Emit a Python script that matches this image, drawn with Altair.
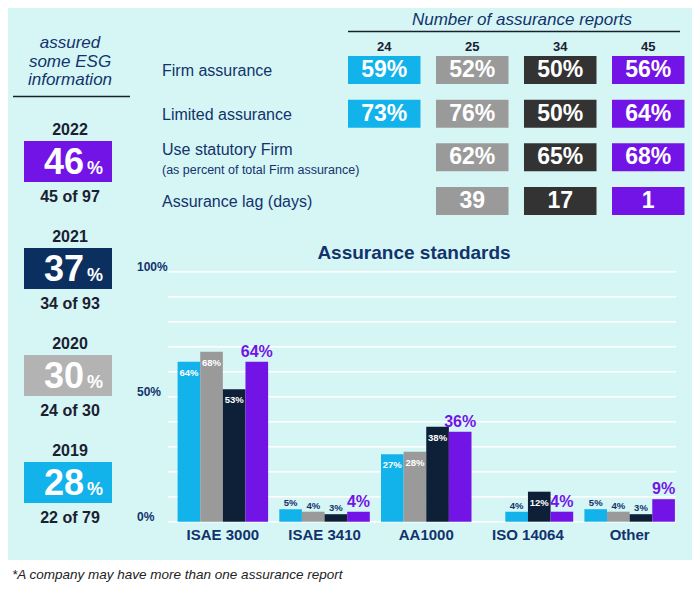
import altair as alt
import pandas as pd

# ---------------- data ----------------
years = ["2022", "2021", "2020", "2019"]
year_pct = [46, 37, 30, 28]
year_counts = ["45 of 97", "34 of 93", "24 of 30", "22 of 79"]

report_counts = ["24", "25", "34", "45"]
table_rows = ["Firm assurance", "Limited assurance", "Use statutory Firm", "Assurance lag (days)"]
firm_assurance = [59, 52, 50, 56]
limited_assurance = [73, 76, 50, 64]
use_statutory = [None, 62, 65, 68]
assurance_lag = [None, 39, 17, 1]

standards = ["ISAE 3000", "ISAE 3410", "AA1000", "ISO 14064", "Other"]
s2019 = [64, 5, 27, None, 5]
s2020 = [68, 4, 28, 4, 4]
s2021 = [53, 3, 38, 12, 3]
s2022 = [64, 4, 36, 4, 9]
grid_ticks = list(range(0, 101, 10))
axis_ticks = [0, 50, 100]

# ---------------- styles ----------------
BG = "#d6f6f6"
CYAN = "#12b2ea"
GRAY = "#9a9a9a"
GRAY_LIGHT = "#b3b3b3"
DARK = "#333333"
NAVY_BAR = "#0e2038"
NAVY_BOX = "#0b2f5f"
PURPLE = "#7214e6"
TXT_NAVY = "#12336b"
TXT_DARK = "#1b2030"
FONT = "Liberation Sans, Arial, sans-serif"

one = pd.DataFrame({"a": [0]})

# ---------------- background ----------------
bg = alt.Chart(one).mark_rect(color=BG).encode(
    x=alt.value(0), x2=alt.value(684), y=alt.value(0), y2=alt.value(552))

# ---------------- left panel ----------------
hdr_left = alt.Chart(one).mark_text(
    font=FONT, fontSize=17, fontStyle="italic", color=TXT_NAVY, align="center",
    baseline="top", lineBreak="\n", lineHeight=18.5
).encode(x=alt.value(62), y=alt.value(27), text=alt.value("assured\nsome ESG\ninformation"))
rule_left = alt.Chart(one).mark_rule(color=TXT_DARK, strokeWidth=1.3).encode(
    x=alt.value(5), x2=alt.value(122), y=alt.value(88.5))

yr = pd.DataFrame({"year": years, "pct": year_pct, "count": year_counts,
                   "color": [PURPLE, NAVY_BOX, GRAY_LIGHT, CYAN]})
yband = alt.Scale(domain=years, range=[100, 528], paddingInner=0.617, paddingOuter=0.3085)
ybase = alt.Chart(yr)
Yy = alt.Y("year:N", scale=yband, axis=None)
yboxes = ybase.mark_rect().encode(x=alt.value(16), x2=alt.value(104), y=Yy,
                                   color=alt.Color("color:N", scale=None))
ylabels = ybase.mark_text(font=FONT, fontSize=16, fontWeight="bold", color=TXT_DARK,
                          baseline="middle", dy=-32).encode(x=alt.value(62), y=Yy, text="year:N")
ynum = ybase.mark_text(font=FONT, fontSize=36, fontWeight="bold", color="white",
                       align="right", baseline="alphabetic", dy=12.5).encode(
    x=alt.value(76), y=Yy, text="pct:Q")
ypct = ybase.mark_text(font=FONT, fontSize=18, fontWeight="bold", color="white",
                       align="left", baseline="alphabetic", dy=12.5).encode(
    x=alt.value(79), y=Yy, text=alt.value("%"))
ycount = ybase.mark_text(font=FONT, fontSize=16, fontWeight="bold", color=TXT_DARK,
                         baseline="middle", dy=35).encode(x=alt.value(62), y=Yy, text="count:N")
left = alt.layer(yboxes, ylabels, ynum, ypct, ycount)

# ---------------- table ----------------
TABLE_COLORS = dict(zip(report_counts, [CYAN, GRAY, DARK, PURPLE]))
recs = []
for r, vals in zip(table_rows, [firm_assurance, limited_assurance, use_statutory, assurance_lag]):
    for c, v in zip(report_counts, vals):
        if v is None:
            continue
        lab = f"{v}" if r == "Assurance lag (days)" else f"{v}%"
        recs.append({"row": r, "col": c, "label": lab, "color": TABLE_COLORS[c]})
tdf = pd.DataFrame(recs)
xcol = alt.Scale(domain=report_counts, range=[332.25, 684.25], paddingInner=0.176, paddingOuter=0.088)
yrow = alt.Scale(domain=table_rows, range=[40.16, 214.8], paddingInner=0.359, paddingOuter=0.1795)
Xc = alt.X("col:N", scale=xcol, axis=None)
Yr = alt.Y("row:N", scale=yrow, axis=None)
tboxes = alt.Chart(tdf).mark_rect().encode(x=Xc, y=Yr, color=alt.Color("color:N", scale=None))
tvals = alt.Chart(tdf).mark_text(font=FONT, fontSize=23, fontWeight="bold", color="white",
                                 baseline="middle").encode(x=Xc, y=Yr, text="label:N")
cdf = pd.DataFrame({"col": report_counts})
theads = alt.Chart(cdf).mark_text(font=FONT, fontSize=13, fontWeight="bold", color=TXT_DARK,
                                  baseline="middle").encode(x=Xc, y=alt.value(38.5), text="col:N")
rdf = pd.DataFrame({"row": table_rows})
rlabels = alt.Chart(rdf).transform_filter(
    "datum.row != 'Use statutory Firm'"
).mark_text(font=FONT, fontSize=16, color=TXT_NAVY, align="left", baseline="middle", dy=1).encode(
    x=alt.value(154), y=Yr, text="row:N")
rlabel3 = alt.Chart(rdf).transform_filter(
    "datum.row == 'Use statutory Firm'"
).mark_text(font=FONT, fontSize=16, color=TXT_NAVY, align="left", baseline="middle", dy=-7).encode(
    x=alt.value(154), y=Yr, text="row:N")
rsub = alt.Chart(rdf).transform_filter(
    "datum.row == 'Use statutory Firm'"
).mark_text(font=FONT, fontSize=12.5, color=TXT_NAVY, align="left", baseline="middle", dy=13).encode(
    x=alt.value(154), y=Yr, text=alt.value("(as percent of total Firm assurance)"))
table = alt.layer(tboxes, tvals, theads, rlabels, rlabel3, rsub)

hdr_table = alt.Chart(one).mark_text(font=FONT, fontSize=17, fontStyle="italic", color=TXT_NAVY,
                                     baseline="middle").encode(
    x=alt.value(514), y=alt.value(12), text=alt.value("Number of assurance reports"))
rule_table = alt.Chart(one).mark_rule(color=TXT_DARK, strokeWidth=1.3).encode(
    x=alt.value(340), x2=alt.value(672), y=alt.value(23.5))

# ---------------- bar chart ----------------
BAR_COLORS = [CYAN, GRAY, NAVY_BAR, PURPLE]
brecs = []
for ci, cat in enumerate(standards):
    for slot, s in enumerate([s2019, s2020, s2021, s2022]):
        v = s[ci]
        if v is None:
            continue
        col = BAR_COLORS[slot]
        if cat == "ISO 14064" and slot == 1:
            col = CYAN  # the source draws this bar in cyan
        brecs.append({"category": cat, "slot": slot, "value": v, "color": col, "label": f"{v}%"})
bdf = pd.DataFrame(brecs)

xband = alt.Scale(domain=standards, range=[164, 672.5], paddingInner=0.11, paddingOuter=0.055)
yq = alt.Scale(domain=[0, 100], range=[513.7, 263.7])
Xb = alt.X("category:N", scale=xband, axis=None)
XO = alt.XOffset("slot:O", scale=alt.Scale(domain=[0, 1, 2, 3], paddingInner=0, paddingOuter=0))
Yb = alt.Y("value:Q", scale=yq, axis=None)

grid = alt.Chart(pd.DataFrame({"value": grid_ticks})).mark_rule(color="white", strokeWidth=1.5).encode(
    y=Yb, x=alt.value(160), x2=alt.value(668))
ylab = alt.Chart(pd.DataFrame({"value": axis_ticks})).transform_calculate(
    lab="datum.value + '%'"
).mark_text(font=FONT, fontSize=12, fontWeight="bold", color=TXT_NAVY, align="left",
            baseline="middle", dy=-5).encode(y=Yb, x=alt.value(129), text="lab:N")
bars = alt.Chart(bdf).mark_bar().encode(x=Xb, xOffset=XO, y=Yb, color=alt.Color("color:N", scale=None))
lab_in = alt.Chart(bdf).transform_filter("datum.slot < 3 && datum.value >= 10").mark_text(
    font=FONT, fontSize=9.5, fontWeight="bold", color="white", baseline="middle", dy=11
).encode(x=Xb, xOffset=XO, y=Yb, text="label:N")
lab_out = alt.Chart(bdf).transform_filter("datum.slot < 3 && datum.value < 10").mark_text(
    font=FONT, fontSize=9.5, fontWeight="bold", color=TXT_NAVY, baseline="middle", dy=-6
).encode(x=Xb, xOffset=XO, y=Yb, text="label:N")
lab_p = alt.Chart(bdf).transform_filter("datum.slot == 3").mark_text(
    font=FONT, fontSize=16, fontWeight="bold", color=PURPLE, baseline="middle", dy=-10
).encode(x=Xb, xOffset=XO, y=Yb, text="label:N")
cats = alt.Chart(pd.DataFrame({"category": standards})).mark_text(
    font=FONT, fontSize=15, fontWeight="bold", color=TXT_NAVY, baseline="middle"
).encode(x=Xb, y=alt.value(527), text="category:N")
barchart = alt.layer(grid, ylab, bars, lab_in, lab_out, lab_p, cats)

title = alt.Chart(one).mark_text(font=FONT, fontSize=19, fontWeight="bold", color=TXT_NAVY,
                                 baseline="middle").encode(
    x=alt.value(406), y=alt.value(245), text=alt.value("Assurance standards"))

foot = alt.Chart(one).mark_text(font=FONT, fontSize=13.5, fontStyle="italic", color="#222222",
                                align="left", baseline="middle").encode(
    x=alt.value(4), y=alt.value(567),
    text=alt.value("*A company may have more than one assurance report"))

chart = alt.layer(
    bg, hdr_left, rule_left, left, hdr_table, rule_table, table, title, barchart, foot
).resolve_scale(
    x="independent", y="independent", color="independent", xOffset="independent"
).properties(
    width=684, height=578, padding=0, autosize=alt.AutoSizeParams(type="none")
).configure(background="white").configure_view(stroke=None)

chart.save("out.html", embed_options={"renderer": "svg", "actions": False})
